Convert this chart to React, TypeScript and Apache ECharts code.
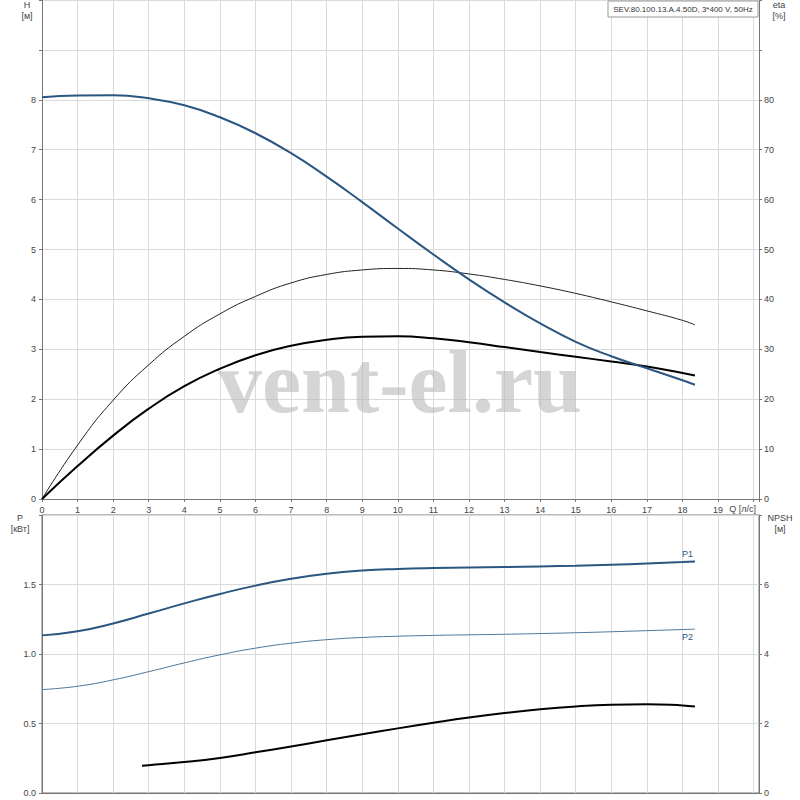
import { useEffect, useRef } from 'react'
import * as echarts from 'echarts'

// расход Q, л/с
const Q = [0, 1, 2, 3, 4, 5, 6, 7, 8, 9, 10, 11, 12, 13, 14, 15, 16, 17, 18, 18.35]
// напор H, м
const H = [8.05, 8.085, 8.09, 8.03, 7.89, 7.65, 7.33, 6.93, 6.46, 5.95, 5.42, 4.9, 4.4, 3.94, 3.52, 3.15, 2.86, 2.62, 2.38, 2.29]
// КПД, %
const ETA_THIN = [0, 10.8, 19.8, 26.9, 32.6, 37.1, 40.6, 43.3, 45.0, 45.9, 46.2, 45.9, 45.1, 44.0, 42.7, 41.2, 39.5, 37.7, 35.8, 34.9]
const ETA_THICK = [0, 6.6, 12.7, 18.1, 22.6, 26.1, 28.8, 30.7, 31.9, 32.5, 32.6, 32.2, 31.4, 30.45, 29.45, 28.5, 27.55, 26.55, 25.25, 24.75]
// мощность P1 / P2, кВт
const P1 = [1.134, 1.164, 1.22, 1.291, 1.364, 1.432, 1.492, 1.541, 1.577, 1.6, 1.612, 1.619, 1.623, 1.626, 1.63, 1.635, 1.642, 1.651, 1.661, 1.665]
const P2 = [0.744, 0.768, 0.814, 0.873, 0.936, 0.994, 1.042, 1.078, 1.103, 1.119, 1.128, 1.134, 1.138, 1.142, 1.147, 1.153, 1.16, 1.168, 1.176, 1.179]
// NPSH, м
const Q_NPSH = [2.81, 3, 4, 5, 6, 7, 8, 9, 10, 11, 12, 13, 14, 15, 16, 17, 18, 18.35]
const NPSH = [0.785, 0.8, 0.89, 1.01, 1.17, 1.34, 1.515, 1.69, 1.86, 2.02, 2.17, 2.3, 2.41, 2.49, 2.54, 2.555, 2.52, 2.49]

const TITLE = 'SEV.80.100.13.A.4.50D, 3*400 V, 50Hz'

const FONT = '"Liberation Sans", Arial, sans-serif'
const BLUE = '#2a5680'
const BLUE_THIN = '#4d769c'
const GRID = '#dadada'
const AXIS = '#777'
const LABEL = '#444'

const pairs = (xs: number[], ys: number[]) => xs.map((x, i) => [x, ys[i]])

export default function App() {
  const chartRef = useRef<HTMLDivElement>(null)

  useEffect(() => {
    if (!chartRef.current) return
    const chart = echarts.init(chartRef.current, undefined, { renderer: 'svg' })

    const axisLabel = { color: LABEL, fontSize: 9, fontFamily: FONT }
    const split = { show: true, lineStyle: { color: GRID, width: 1 } }

    const xAxisBase = {
      type: 'value' as const,
      min: 0,
      max: 20.15,
      interval: 1,
      splitLine: split,
      axisLine: { show: true, onZero: false, lineStyle: { color: AXIS } },
      axisTick: { show: true, length: 3, lineStyle: { color: AXIS } }
    }

    const option: echarts.EChartsOption = {
      animation: false,
      textStyle: { fontFamily: FONT },
      grid: [
        { left: 42, right: 41, top: 0, height: 499, show: false },
        { left: 42, right: 41, top: 515, height: 278, show: true, borderColor: AXIS, borderWidth: 1 }
      ],
      xAxis: [
        {
          ...xAxisBase,
          gridIndex: 0,
          axisLabel: {
            ...axisLabel,
            margin: 6,
            formatter: (v: number) => (Number.isInteger(v) && v <= 19 ? String(v) : '')
          }
        },
        {
          ...xAxisBase,
          gridIndex: 1,
          axisTick: { show: false },
          axisLabel: { show: false }
        }
      ],
      yAxis: [
        {
          type: 'value', gridIndex: 0, min: 0, max: 10, interval: 1,
          splitLine: split,
          axisLine: { show: true, onZero: false, lineStyle: { color: AXIS } },
          axisTick: { show: true, length: 3, lineStyle: { color: AXIS } },
          axisLabel: { ...axisLabel, margin: 6, formatter: (v: number) => (v <= 8 ? String(v) : '') }
        },
        {
          type: 'value', gridIndex: 0, position: 'right', min: 0, max: 100, interval: 10,
          splitLine: { show: false },
          axisLine: { show: true, onZero: false, lineStyle: { color: AXIS } },
          axisTick: { show: true, length: 3, lineStyle: { color: AXIS } },
          axisLabel: { ...axisLabel, margin: 5, formatter: (v: number) => (v <= 80 ? String(v) : '') }
        },
        {
          type: 'value', gridIndex: 1, min: 0, max: 2, interval: 0.5,
          splitLine: split,
          axisLine: { show: true, onZero: false, lineStyle: { color: AXIS } },
          axisTick: { show: true, length: 3, lineStyle: { color: AXIS } },
          axisLabel: { ...axisLabel, margin: 6, formatter: (v: number) => (v < 2 ? v.toFixed(1) : '') }
        },
        {
          type: 'value', gridIndex: 1, position: 'right', min: 0, max: 8, interval: 2,
          splitLine: { show: false },
          axisLine: { show: true, onZero: false, lineStyle: { color: AXIS } },
          axisTick: { show: true, length: 3, lineStyle: { color: AXIS } },
          axisLabel: { ...axisLabel, margin: 5, formatter: (v: number) => (v < 8 ? String(v) : '') }
        }
      ],
      graphic: [
        // водяной знак
        {
          type: 'text', left: 'center', top: 338, z: 1, silent: true,
          style: {
            text: 'vent-el.ru',
            fill: 'rgba(185,185,185,0.6)',
            font: 'bold 88px "Liberation Serif", "Times New Roman", serif'
          }
        },
        { type: 'rect', shape: { x: 608, y: 1, width: 150, height: 16 }, style: { fill: '#fff', stroke: '#999', lineWidth: 1 }, z: 10 },
        { type: 'text', x: 683, y: 9, z: 11, style: { text: TITLE, fill: '#333', font: `8px ${FONT}`, align: 'center', verticalAlign: 'middle' } },
        { type: 'text', x: 27, y: 0, style: { text: 'H', fill: LABEL, font: `9px ${FONT}`, align: 'center' } },
        { type: 'text', x: 27, y: 11, style: { text: '[м]', fill: LABEL, font: `9px ${FONT}`, align: 'center' } },
        { type: 'text', x: 779, y: 0, style: { text: 'eta', fill: LABEL, font: `9px ${FONT}`, align: 'center' } },
        { type: 'text', x: 779, y: 11, style: { text: '[%]', fill: LABEL, font: `9px ${FONT}`, align: 'center' } },
        { type: 'text', x: 756, y: 504, style: { text: 'Q [л/с]', fill: LABEL, font: `9px ${FONT}`, align: 'right' } },
        { type: 'text', x: 20, y: 513, style: { text: 'P', fill: LABEL, font: `9px ${FONT}`, align: 'center' } },
        { type: 'text', x: 20, y: 524, style: { text: '[кВт]', fill: LABEL, font: `9px ${FONT}`, align: 'center' } },
        { type: 'text', x: 780, y: 513, style: { text: 'NPSH', fill: LABEL, font: `9px ${FONT}`, align: 'center' } },
        { type: 'text', x: 780, y: 524, style: { text: '[м]', fill: LABEL, font: `9px ${FONT}`, align: 'center' } }
      ],
      series: [
        {
          name: 'H', type: 'line', xAxisIndex: 0, yAxisIndex: 0, smooth: 0.5, showSymbol: false, z: 5,
          lineStyle: { color: BLUE, width: 2 }, data: pairs(Q, H)
        },
        {
          name: 'eta', type: 'line', xAxisIndex: 0, yAxisIndex: 1, smooth: 0.5, showSymbol: false, z: 4,
          lineStyle: { color: '#222', width: 1 }, data: pairs(Q, ETA_THIN)
        },
        {
          name: 'eta2', type: 'line', xAxisIndex: 0, yAxisIndex: 1, smooth: 0.5, showSymbol: false, z: 4,
          lineStyle: { color: '#000', width: 2 }, data: pairs(Q, ETA_THICK)
        },
        {
          name: 'P1', type: 'line', xAxisIndex: 1, yAxisIndex: 2, smooth: 0.5, showSymbol: false, z: 5,
          lineStyle: { color: BLUE, width: 2 }, data: pairs(Q, P1),
          endLabel: { show: true, formatter: 'P1', color: BLUE, fontSize: 9, fontFamily: FONT, distance: 0, offset: [-13, -8] }
        },
        {
          name: 'P2', type: 'line', xAxisIndex: 1, yAxisIndex: 2, smooth: 0.5, showSymbol: false, z: 5,
          lineStyle: { color: BLUE_THIN, width: 1 }, data: pairs(Q, P2),
          endLabel: { show: true, formatter: 'P2', color: BLUE, fontSize: 9, fontFamily: FONT, distance: 0, offset: [-13, 8] }
        },
        {
          name: 'NPSH', type: 'line', xAxisIndex: 1, yAxisIndex: 3, smooth: 0.5, showSymbol: false, z: 5,
          lineStyle: { color: '#000', width: 2 }, data: pairs(Q_NPSH, NPSH)
        }
      ]
    }

    chart.setOption(option)

    return () => {
      chart.dispose()
    }
  }, [])

  return (
    <div
      ref={chartRef}
      style={{ position: 'absolute', left: 0, top: 0, width: 800, height: 800, background: '#fff' }}
    />
  )
}
